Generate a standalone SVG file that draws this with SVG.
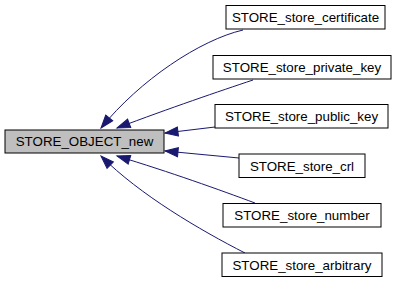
<svg xmlns="http://www.w3.org/2000/svg" width="397" height="283" viewBox="0 0 397 283">
<style>
  .node rect { fill: #ffffff; stroke: #000000; stroke-width: 1; }
  .node.main rect { fill: #bfbfbf; }
  .node text { font-family: "Liberation Sans", Arial, sans-serif; font-size: 13.33px; fill: #000000; text-anchor: middle; }
  .edge { fill: none; stroke: #191970; stroke-width: 1; marker-end: url(#arrow); }
</style>
<defs>
  <marker id="arrow" markerUnits="userSpaceOnUse" markerWidth="14" markerHeight="11" refX="13" refY="5" orient="auto" overflow="visible">
    <path d="M0,0.5 L13,5 L0,9.5 z" fill="#191970" stroke="#191970" stroke-width="1"/>
  </marker>
</defs>
<rect width="397" height="283" fill="#ffffff"/>
<g id="connectors">
  <path class="edge" d="M243,30 C200,40 140,80 101,128"/>
  <path class="edge" d="M253,80 C220,91 170,108 117,128"/>
  <path class="edge" d="M215,127 L165,133"/>
  <path class="edge" d="M239,158 L165,151"/>
  <path class="edge" d="M255,203 C220,190 170,172 117,156"/>
  <path class="edge" d="M245,253 C200,230 140,195 101,156"/>
</g>
<g id="STORE_OBJECT_new" class="node main">
  <rect x="5" y="130" width="159" height="23"/>
  <text x="84.5" y="146">STORE_OBJECT_new</text>
</g>
<g id="STORE_store_certificate" class="node">
  <rect x="226" y="5.5" width="159" height="23.5"/>
  <text x="305.5" y="22">STORE_store_certificate</text>
</g>
<g id="STORE_store_private_key" class="node">
  <rect x="213" y="55.5" width="178" height="23.5"/>
  <text x="302" y="72">STORE_store_private_key</text>
</g>
<g id="STORE_store_public_key" class="node">
  <rect x="215" y="104.5" width="173" height="23.5"/>
  <text x="301.5" y="121">STORE_store_public_key</text>
</g>
<g id="STORE_store_crl" class="node">
  <rect x="239" y="154" width="126" height="23.5"/>
  <text x="302" y="170.5">STORE_store_crl</text>
</g>
<g id="STORE_store_number" class="node">
  <rect x="223" y="203.5" width="158" height="23.5"/>
  <text x="302" y="220">STORE_store_number</text>
</g>
<g id="STORE_store_arbitrary" class="node">
  <rect x="222" y="253" width="160" height="23.5"/>
  <text x="302" y="269.5">STORE_store_arbitrary</text>
</g>
</svg>
